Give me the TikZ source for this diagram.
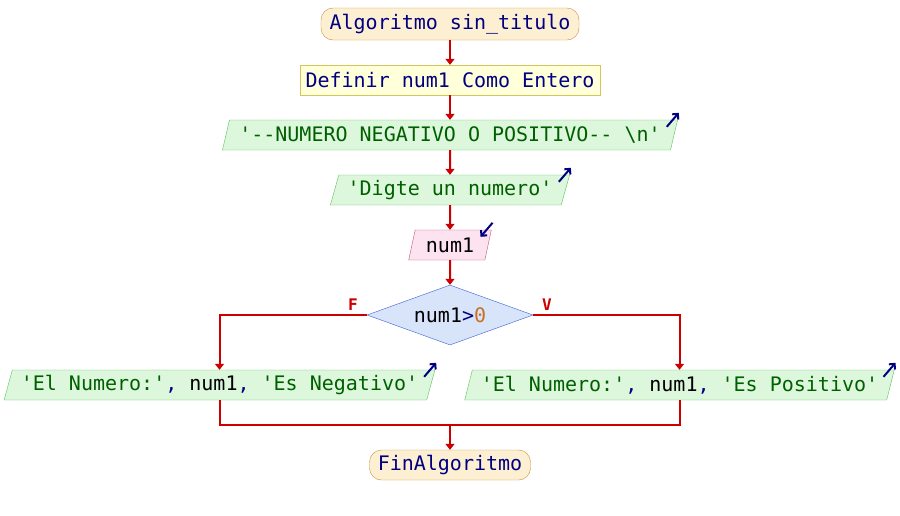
\documentclass[tikz,border=0pt]{standalone}
\usepackage{fontspec}
\setmonofont{DejaVu Sans Mono}
\usetikzlibrary{shapes.geometric,arrows.meta}
\definecolor{kwcol}{HTML}{000080}
\definecolor{strcol}{HTML}{006000}
\definecolor{numcol}{HTML}{C87020}
\definecolor{linecol}{HTML}{CC0000}
\definecolor{termfill}{HTML}{FDEFD2}
\definecolor{termdraw}{HTML}{C8903C}
\definecolor{deffill}{HTML}{FFFFDA}
\definecolor{defdraw}{HTML}{D4C65C}
\definecolor{outfill}{HTML}{DDF7DD}
\definecolor{outdraw}{HTML}{5DBF5D}
\definecolor{infill}{HTML}{FCE3EF}
\definecolor{indraw}{HTML}{C0507F}
\definecolor{decfill}{HTML}{D8E4FA}
\definecolor{decdraw}{HTML}{3A5FD0}
\newcommand{\pstr}[1]{\textcolor{strcol}{#1}}
\newcommand{\pkw}[1]{\textcolor{kwcol}{#1}}
\newcommand{\pvar}[1]{\textcolor{black}{#1}}
\tikzset{box/.style={font=\ttfamily\fontsize{20}{24}\selectfont,
        inner xsep=2pt, inner ysep=0pt, minimum height=30pt, text=kwcol},
    termnode/.style={box, draw=termdraw, fill=termfill, rounded corners=12pt},
    defnode/.style={box, draw=defdraw, fill=deffill},
    outnode/.style={box, draw=outdraw, fill=outfill, trapezium,
        trapezium left angle=68, trapezium right angle=112,
        trapezium stretches=true},
    innode/.style={outnode, draw=indraw, fill=infill,
        trapezium left angle=72, trapezium right angle=108},
    decnode/.style={box, draw=decdraw, fill=decfill, diamond, aspect=2.77,
        inner sep=0pt, minimum width=166pt, minimum height=60pt},
    link/.style={draw=linecol, line width=2pt},
    flow/.style={link, -{Triangle[length=6pt,width=9pt]}},
    icon/.style={draw=kwcol, line width=2pt, -{Straight Barb[length=4pt,width=8pt]}},
    tflabel/.style={text=linecol, font=\ttfamily\bfseries\fontsize{16}{18}\selectfont, inner sep=0pt}}

\begin{document}
\begin{tikzpicture}[x=1pt,y=-1pt]
\useasboundingbox (0,0) rectangle (900,515);
% nodes
\node[termnode, minimum width=258pt, minimum height=32pt] (start) at (450,24) {Algoritmo sin\_titulo};
\node[defnode, minimum width=300pt] (def) at (450,80) {Definir num1 Como Entero};
\node[outnode, minimum width=456pt] (out1) at (450,135)
    {\pstr{'--NUMERO NEGATIVO O POSITIVO-- \textbackslash n'}};
\node[outnode, minimum width=240pt] (out2) at (450,190) {\pstr{'Digte un numero'}};
\node[innode, minimum width=83pt] (read) at (450,245) {\pvar{num1}};
\node[decnode] (cond) at (450,315) {\pvar{num1}>\textcolor{numcol}{0}};
\node[outnode, minimum width=431pt] (neg) at (219.5,385)
    {\pstr{'El Numero:'}, \pvar{num1}, \pstr{'Es Negativo'}};
\node[outnode, minimum width=431pt] (pos) at (679.5,385)
    {\pstr{'El Numero:'}, \pvar{num1}, \pstr{'Es Positivo'}};
\node[termnode, minimum width=161pt] (fin) at (450,465) {FinAlgoritmo};
\coordinate (join) at (450,425);
% io marks
\draw[icon] ([shift={(-11,7)}]out1.top right corner) -- ([shift={(1,-7)}]out1.top right corner);
\draw[icon] ([shift={(-11,7)}]out2.top right corner) -- ([shift={(1,-7)}]out2.top right corner);
\draw[icon] ([shift={(-11,7)}]neg.top right corner) -- ([shift={(1,-7)}]neg.top right corner);
\draw[icon] ([shift={(-11,7)}]pos.top right corner) -- ([shift={(1,-7)}]pos.top right corner);
\draw[icon] ([shift={(1,-7)}]read.top right corner) -- ([shift={(-11,7)}]read.top right corner);
% connectors
\draw[flow] (start) -- (def);
\draw[flow] (def) -- (out1);
\draw[flow] (out1) -- (out2);
\draw[flow] (out2) -- (read);
\draw[flow] (read) -- (cond);
\draw[flow] (cond.west) node[tflabel, anchor=south east, xshift=-8pt, yshift=4pt]{F} -| (neg);
\draw[flow] (cond.east) node[tflabel, anchor=south west, xshift=8pt, yshift=4pt]{V} -| (pos);
\draw[link] (neg.south) -- (neg.south |- join) -- (pos.south |- join) -- (pos.south);
\draw[flow] (join) -- (fin);
\end{tikzpicture}
\end{document}
